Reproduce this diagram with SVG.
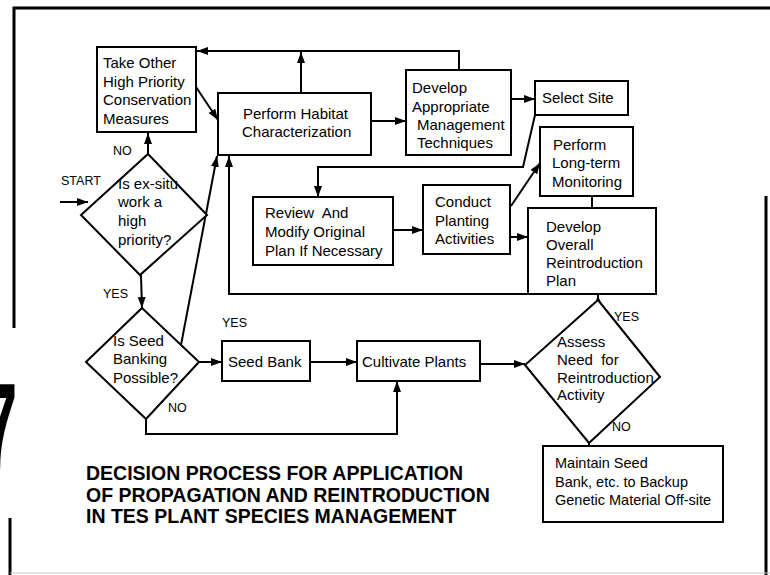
<svg xmlns="http://www.w3.org/2000/svg" width="770" height="575" viewBox="0 0 770 575">
<style>
.box{fill:#fff;stroke:#000;stroke-width:2}
.dia{fill:#fff;stroke:#000;stroke-width:2}
.t{font-family:"Liberation Sans",Arial,sans-serif;font-size:15px;fill:#000}
.lbl{font-family:"Liberation Sans",Arial,sans-serif;font-size:12.5px;fill:#000}
.title{font-family:"Liberation Sans",Arial,sans-serif;font-size:19.5px;font-weight:bold;fill:#000}
.c{fill:none;stroke:#000;stroke-width:2}
.ca{fill:none;stroke:#000;stroke-width:2;marker-end:url(#ah)}
.frame{stroke:#000;stroke-width:3;fill:none}
</style>
<defs>
<marker id="ah" markerUnits="userSpaceOnUse" markerWidth="12" markerHeight="10" refX="11" refY="4" orient="auto">
<path d="M0,0 L11,4 L0,8 z" fill="#000"/>
</marker>
</defs>
<rect width="770" height="575" fill="#fff"/>
<g id="frame">
<path class="frame" d="M14,328 L14,8 L770,8"/>
<path class="frame" d="M10,518 L10,575"/>
<path class="frame" d="M766,196 L766,575"/>
<line x1="10" y1="573" x2="770" y2="573" stroke="#ccc" stroke-width="1"/>
<text transform="translate(-18,469) scale(0.52,1)" font-family="Liberation Sans,Arial,sans-serif" font-weight="bold" font-size="122" fill="#000">7</text>
</g>
<g id="connectors">
<path class="ca" d="M60,202 L88,202"/>
<path class="ca" d="M148,154 L148,133"/>
<path class="ca" d="M141,275 L142,308"/>
<path class="ca" d="M181,345 L217,156"/>
<path class="ca" d="M528,294 L229,294 L229,156"/>
<path class="ca" d="M196,87 L218,120"/>
<path class="ca" d="M301,93 L301,52"/>
<path class="ca" d="M459,70 L459,51 L197,51"/>
<path class="ca" d="M371,121 L406,121"/>
<path class="ca" d="M511,99 L535,99"/>
<path class="ca" d="M535,115 L523,167 L318,167 L318,197"/>
<path class="ca" d="M393,230 L423,230"/>
<path class="ca" d="M511,206 L540,163"/>
<path class="ca" d="M510,237 L528,237"/>
<path class="c" d="M592,196 L592,208"/>
<path class="ca" d="M199,362 L222,362"/>
<path class="ca" d="M310,362 L357,362"/>
<path class="ca" d="M146,419 L146,434 L397,434 L397,381"/>
<path class="ca" d="M480,364 L525,364"/>
<path class="ca" d="M598,306 L598,295"/>
<path class="ca" d="M589,436 L589,446"/>
</g>
<g id="labels">
<text class="lbl" x="61" y="185">START</text>
<text class="lbl" x="113" y="155">NO</text>
<text class="lbl" x="103" y="298">YES</text>
<text class="lbl" x="222" y="327">YES</text>
<text class="lbl" x="168" y="412">NO</text>
<text class="lbl" x="614" y="321">YES</text>
<text class="lbl" x="612" y="431">NO</text>
</g>
<g id="take-other">
<rect class="box" x="97" y="47" width="99" height="85"/>
<text class="t" x="103" y="68">Take Other</text>
<text class="t" x="103" y="87">High Priority</text>
<text class="t" x="103" y="105">Conservation</text>
<text class="t" x="103" y="124">Measures</text>
</g>
<g id="habitat">
<rect class="box" x="218" y="93" width="153" height="62"/>
<text class="t" x="243" y="119">Perform Habitat</text>
<text class="t" x="242" y="137">Characterization</text>
</g>
<g id="develop-techniques">
<rect class="box" x="406" y="70" width="105" height="85"/>
<text class="t" x="412" y="93">Develop</text>
<text class="t" x="412" y="112">Appropriate</text>
<text class="t" x="417" y="130">Management</text>
<text class="t" x="417" y="148">Techniques</text>
</g>
<g id="select-site">
<rect class="box" x="535" y="81" width="93" height="34"/>
<text class="t" x="542" y="103">Select Site</text>
</g>
<g id="monitoring">
<rect class="box" x="540" y="127" width="93" height="69"/>
<text class="t" x="553" y="150">Perform</text>
<text class="t" x="552" y="168">Long-term</text>
<text class="t" x="552" y="187">Monitoring</text>
</g>
<g id="review">
<rect class="box" x="253" y="197" width="140" height="68"/>
<text class="t" x="265" y="218" xml:space="preserve">Review  And</text>
<text class="t" x="265" y="237">Modify Original</text>
<text class="t" x="265" y="256">Plan If Necessary</text>
</g>
<g id="planting">
<rect class="box" x="423" y="185" width="87" height="69"/>
<text class="t" x="435" y="207">Conduct</text>
<text class="t" x="435" y="226">Planting</text>
<text class="t" x="435" y="244">Activities</text>
</g>
<g id="overall-plan">
<rect class="box" x="528" y="208" width="128" height="86"/>
<text class="t" x="546" y="232">Develop</text>
<text class="t" x="546" y="250">Overall</text>
<text class="t" x="546" y="268">Reintroduction</text>
<text class="t" x="546" y="286">Plan</text>
</g>
<g id="ex-situ">
<polygon class="dia" points="148,154 207,215 140,275 81,215"/>
<text class="t" x="118" y="189">Is ex-situ</text>
<text class="t" x="118" y="207">work a</text>
<text class="t" x="118" y="226">high</text>
<text class="t" x="118" y="245">priority?</text>
</g>
<g id="seed-banking">
<polygon class="dia" points="142,308 199,362 146,419 86,362"/>
<text class="t" x="113" y="346">Is Seed</text>
<text class="t" x="113" y="364">Banking</text>
<text class="t" x="113" y="383">Possible?</text>
</g>
<g id="seed-bank">
<rect class="box" x="222" y="341" width="88" height="40"/>
<text class="t" x="228" y="367">Seed Bank</text>
</g>
<g id="cultivate">
<rect class="box" x="357" y="341" width="123" height="40"/>
<text class="t" x="362" y="367">Cultivate Plants</text>
</g>
<g id="assess">
<polygon class="dia" points="598,300 660,377 589,443 525,365"/>
<text class="t" x="557" y="347">Assess</text>
<text class="t" x="557" y="365" xml:space="preserve">Need  for</text>
<text class="t" x="557" y="383">Reintroduction</text>
<text class="t" x="557" y="400">Activity</text>
</g>
<g id="maintain">
<rect class="box" x="543" y="446" width="180" height="76"/>
<text class="t" x="555" y="468" style="font-size:14.5px">Maintain Seed</text>
<text class="t" x="555" y="487" style="font-size:14.5px">Bank, etc. to Backup</text>
<text class="t" x="555" y="505" style="font-size:14.5px">Genetic Material Off-site</text>
</g>
<g id="title">
<text class="title" x="86" y="480">DECISION PROCESS FOR APPLICATION</text>
<text class="title" x="86" y="502">OF PROPAGATION AND REINTRODUCTION</text>
<text class="title" x="86" y="523">IN TES PLANT SPECIES MANAGEMENT</text>
</g>
</svg>
